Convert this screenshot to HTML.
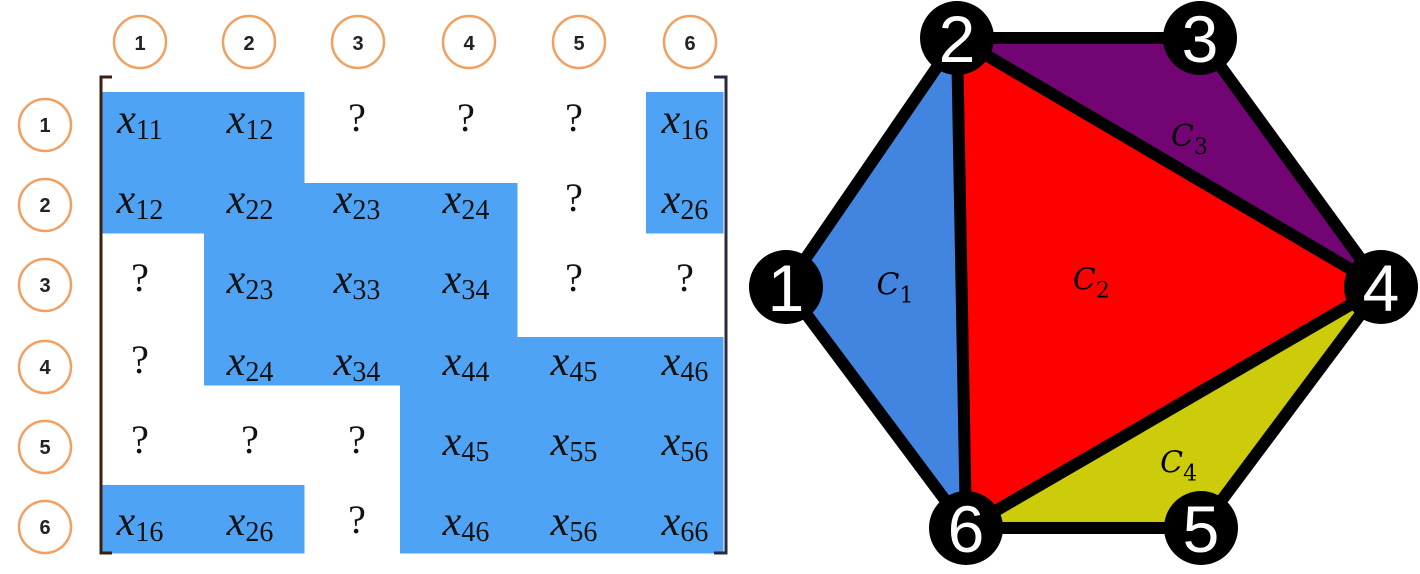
<!DOCTYPE html>
<html><head><meta charset="utf-8"><style>
html,body{margin:0;padding:0;background:#fff;width:1420px;height:574px;overflow:hidden}
svg{display:block}
</style></head><body>
<svg id="chart" width="1420" height="574" viewBox="0 0 1420 574" xmlns="http://www.w3.org/2000/svg">
<g id="matrix"></g>
<g id="graph"></g>
</svg>
<script>
const NS='http://www.w3.org/2000/svg';
// ---- matrix data ----
const matrixLabels=['1','2','3','4','5','6'];
const mask=[
 [1,1,0,0,0,1],
 [1,1,1,1,0,1],
 [0,1,1,1,0,0],
 [0,1,1,1,1,1],
 [0,0,0,1,1,1],
 [1,1,0,1,1,1]];
const entries=[
 ['11','12','?','?','?','16'],
 ['12','22','23','24','?','26'],
 ['?','23','33','34','?','?'],
 ['?','24','34','44','45','46'],
 ['?','?','?','45','55','56'],
 ['16','26','?','46','56','66']];
// ---- graph data ----
const nodeLabels=['1','2','3','4','5','6'];
const nodeX=[786,957,1200,1381,1201,966];
const nodeY=[287,38,38,287,528,528];
const cliques=[[0,1,5],[1,3,5],[1,2,3],[3,4,5]];
const cliqueColors=['#4285e0','#ff0000','#720573','#cccc0a'];
const cliqueNames=['1','2','3','4'];
const cliqueLabelColor=['#000','#000','#000','#000'];
const edges=[[0,1],[1,2],[2,3],[3,4],[4,5],[5,0],[1,5],[1,3],[3,5]];

function mk(tag,attrs,parent){const e=document.createElementNS(NS,tag);for(const k in attrs)e.setAttribute(k,attrs[k]);parent.appendChild(e);return e;}

const colEdges=[100,204,304,400,517,646,723];
const rowEdges=[92,183,233,337,385,485,553];
const colCx=[140,250,357,466,574,685];
const rowCy=[125,205,285,367,447,527];
const headCx=[140,249,358,469,579,690];
const M=document.getElementById('matrix');
for(let r=0;r<6;r++)for(let c=0;c<6;c++){
  if(mask[r][c]){
    const rc=mk('rect',{x:colEdges[c],y:rowEdges[r],width:colEdges[c+1]-colEdges[c]+0.5,height:rowEdges[r+1]-rowEdges[r]+0.5,fill:'#4fa3f5'},M);
    
    
  }
}
const bl=mk('path',{d:'M112 77 L101 77 L101 553 L112 553',fill:'none',stroke:'#3a2010','stroke-width':3},M);


const br=mk('path',{d:'M714 77 L726 77 L726 553 L714 553',fill:'none',stroke:'#2a2a40','stroke-width':3},M);


for(let i=0;i<6;i++){
  const ch=mk('circle',{cx:headCx[i],cy:42,r:26,fill:'#fff',stroke:'#f0a060','stroke-width':2.5},M);
  
  
  const th=mk('text',{x:headCx[i],y:50,'text-anchor':'middle','font-family':'Liberation Sans, sans-serif','font-weight':'bold','font-size':20,fill:'#222'},M);
  th.textContent=matrixLabels[i];
  
  
  const cr=mk('circle',{cx:45,cy:rowCy[i],r:26,fill:'#fff',stroke:'#f0a060','stroke-width':2.5},M);
  
  
  const tr=mk('text',{x:45,y:rowCy[i]+7,'text-anchor':'middle','font-family':'Liberation Sans, sans-serif','font-weight':'bold','font-size':20,fill:'#222'},M);
  tr.textContent=matrixLabels[i];
  
  
}
for(let r=0;r<6;r++)for(let c=0;c<6;c++){
  const v=entries[r][c];
  const t=mk('text',{x:colCx[c],y:rowCy[r]+8,'text-anchor':'middle','font-family':'Liberation Serif, serif',fill:'#111'},M);
  if(v==='?'){t.setAttribute('font-size',40);t.setAttribute('y',rowCy[r]+6);t.textContent='?';}
  else{
    const a=mk('tspan',{'font-style':'italic','font-size':42},t);a.textContent='x';
    const b=mk('tspan',{'font-size':28,dy:6},t);b.textContent=v;
  }
  
  
}
const G=document.getElementById('graph');
cliques.forEach((cl,i)=>{
  const p=mk('polygon',{points:cl.map(k=>nodeX[k]+','+nodeY[k]).join(' '),fill:cliqueColors[i]},G);
  
  
});
edges.forEach(e=>{
  const l=mk('line',{x1:nodeX[e[0]],y1:nodeY[e[0]],x2:nodeX[e[1]],y2:nodeY[e[1]],stroke:'#000','stroke-width':12,'stroke-linecap':'round'},G);
  
  
});
cliques.forEach((cl,i)=>{
  let cx=0,cy=0;cl.forEach(k=>{cx+=nodeX[k];cy+=nodeY[k];});cx/=3;cy/=3;
  const t=mk('text',{x:cx+(i==0?-8:i==2?10:i==3?-4:-10),y:cy+(i==0?10:i==1?5:i==2?25:25),'text-anchor':'middle','font-family':'DejaVu Serif, serif','font-style':'italic','font-size':30,fill:cliqueLabelColor[i]},G);
  const a=mk('tspan',{},t);a.textContent='C';
  const b=mk('tspan',{'font-size':22,dy:8,'font-style':'normal'},t);b.textContent=cliqueNames[i];
  
  
});
nodeLabels.forEach((n,i)=>{
  const c=mk('circle',{cx:nodeX[i],cy:nodeY[i],r:37,fill:'#000'},G);
  
  
  const t=mk('text',{x:nodeX[i],y:nodeY[i]+24,'text-anchor':'middle','font-family':'Liberation Sans, sans-serif','font-size':66,fill:'#fff'},G);
  t.textContent=n;
  
  
});
</script>
</body></html>
